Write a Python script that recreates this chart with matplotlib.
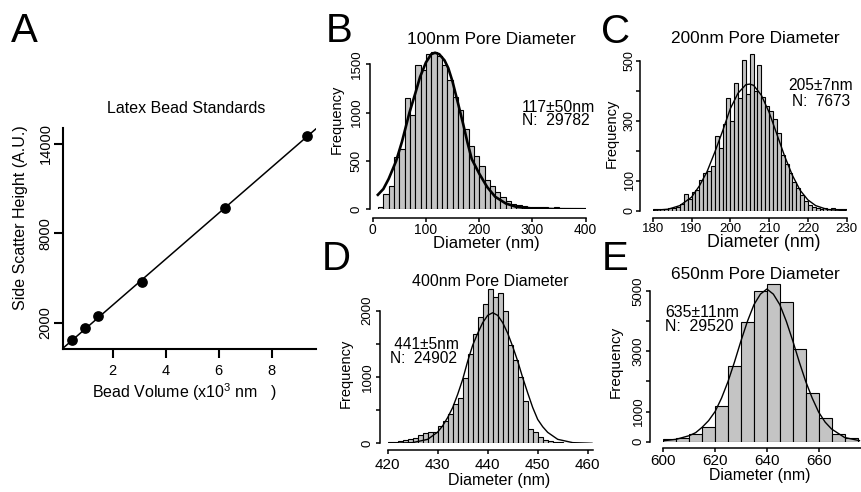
import numpy as np
import matplotlib
matplotlib.use('Agg')
import matplotlib.pyplot as plt

plt.rcParams['font.family'] = ['Liberation Sans', 'DejaVu Sans']
plt.rcParams['mathtext.fontset'] = 'custom'
plt.rcParams['mathtext.rm'] = 'Liberation Sans'

W, H = 862, 492
BAR = '#c4c4c4'

# A: latex bead standards
bead_volume = [0.48, 0.97, 1.46, 3.09, 6.23, 9.32]
side_scatter = [830, 1665, 2450, 4740, 9710, 14510]

# B: 100 nm pore, 10 nm bins
b_edges = list(range(10, 400, 10))
b_counts = [24, 159, 238, 540, 620, 1155, 980, 1490, 1440, 1605,
            1625, 1585, 1495, 1340, 1165, 1030, 830, 650, 552, 448,
            303, 240, 175, 125, 86, 58, 45, 36, 28, 24,
            22, 20, 17, 19, 15, 14, 12, 10, 10]
b_fit_x = [8, 20, 30, 44, 55, 69, 80, 89, 100, 110, 117, 125, 135, 142,
           150, 161, 170, 178, 186, 200, 215, 230, 250, 270, 300, 350, 400]
b_fit_y = [140, 210, 315, 500, 700, 1000, 1200, 1370, 1520, 1605, 1620,
           1605, 1540, 1460, 1320, 1080, 880, 690, 520, 370, 230, 130,
           60, 25, 8, 1, 0]

# C: 200 nm pore, 1 nm bins
c_edges = list(range(180, 230))
c_counts = [5, 6, 5, 6, 8, 10, 13, 22, 55, 40,
            62, 68, 102, 125, 133, 150, 249, 208, 290, 375,
            300, 425, 375, 502, 390, 522, 400, 487, 380, 350,
            333, 305, 258, 185, 155, 127, 97, 75, 52, 33,
            18, 12, 8, 6, 8, 6, 8, 7, 6, 7]
c_fit_x = [180, 184, 187, 190, 192, 194, 196, 198, 200, 202, 204, 205,
           206, 208, 210, 212, 214, 216, 218, 220, 222, 225, 230]
c_fit_y = [1, 5, 17, 45, 82, 130, 195, 265, 340, 392, 420, 422,
           418, 385, 328, 255, 182, 118, 68, 36, 17, 4, 0]

# D: 400 nm pore, 1 nm bins
d_edges = list(range(420, 460))
d_counts = [25, 25, 35, 50, 60, 75, 125, 150, 175, 175,
            255, 340, 440, 600, 690, 990, 1350, 1650, 1900, 2100,
            2330, 2200, 2270, 1990, 1480, 1250, 1000, 640, 215, 175,
            100, 55, 35, 20, 15, 10, 8, 5, 5, 3]
d_fit_x = [420, 425, 428, 430, 431, 432, 433, 434, 435, 436, 437, 438, 439,
           440, 441, 442, 443, 444, 445, 446, 447, 448, 449, 450, 451, 452,
           454, 457, 461]
d_fit_y = [0, 10, 60, 170, 265, 390, 540, 740, 965, 1240, 1480, 1660, 1820,
           1930, 1970, 1930, 1820, 1660, 1460, 1240, 990, 760, 540, 360, 250,
           165, 60, 10, 0]

# E: 650 nm pore, 5 nm bins
e_edges = list(range(600, 675, 5))
e_counts = [77, 133, 254, 498, 1184, 2511, 3982, 5011, 5221, 4646,
            3075, 1626, 774, 254, 133]
e_fit_x = [600, 605, 610, 612.5, 615, 617.5, 620, 622.5, 625, 627.5, 630,
           632.5, 635, 637.5, 640, 642.5, 645, 647.5, 650, 652.5, 655,
           657.5, 660, 662.5, 665, 670, 676]
e_fit_y = [30, 80, 200, 300, 480, 700, 1000, 1450, 2000, 2650, 3350,
           4000, 4550, 4900, 5070, 4900, 4550, 4000, 3350, 2650, 2000,
           1450, 980, 650, 420, 140, 30]


def px_rect(l, t, r, b):
    return [l / W, 1 - b / H, (r - l) / W, (b - t) / H]


fig = plt.figure(figsize=(W / 100, H / 100), dpi=100)


def put(x, y, s, size, **kw):
    kw.setdefault('color', 'black')
    return fig.text(x / W, 1 - y / H, s, fontsize=size, **kw)


def hist_panel(rect, edges, counts, width, fit_x, fit_y, fit_lw,
               xlim, ylim, xticks, yticks, yticklabels, left_out, bottom_out,
               xtick_size, ytick_size, xpad, ypad):
    ax = fig.add_axes(rect)
    ax.patch.set_visible(False)
    ax.bar(edges, counts, width=width, align='edge', color=BAR,
           edgecolor='black', linewidth=0.8)
    ax.plot(fit_x, fit_y, color='black', lw=fit_lw, solid_capstyle='butt')
    ax.set_xlim(*xlim)
    ax.set_ylim(*ylim)
    ax.spines['top'].set_visible(False)
    ax.spines['right'].set_visible(False)
    ax.spines['left'].set_position(('outward', left_out))
    ax.spines['bottom'].set_position(('outward', bottom_out))
    ax.spines['left'].set_bounds(yticks[0], yticks[-1])
    ax.spines['bottom'].set_bounds(xlim[0], xlim[1])
    for s in ['left', 'bottom']:
        ax.spines[s].set_linewidth(1.1)
    ax.set_xticks(xticks, [str(t) for t in xticks], fontsize=xtick_size)
    ax.set_yticks(yticks, yticklabels, fontsize=ytick_size, rotation=90,
                  va='center')
    ax.tick_params(direction='out', length=3.2, width=1.1)
    ax.tick_params(axis='x', pad=xpad)
    ax.tick_params(axis='y', pad=ypad)
    return ax


# ---- A ----
ax = fig.add_axes(px_rect(63, 128, 316, 349))
ax.patch.set_visible(False)
slope, intercept = np.polyfit(bead_volume, side_scatter, 1)
xx = np.array([0.125, 9.67])
ax.plot(xx, slope * xx + intercept, color='black', lw=1.1)
ax.plot(bead_volume, side_scatter, 'o', color='black', ms=6.7, zorder=3)
ax.set_xlim(0.125, 9.67)
ax.set_ylim(255, 15070)
ax.spines['top'].set_visible(False)
ax.spines['right'].set_visible(False)
for s in ['left', 'bottom']:
    ax.spines[s].set_linewidth(1.5)
ax.set_xticks([2, 4, 6, 8], ['2', '4', '6', '8'], fontsize=10.5)
ax.set_yticks([2000, 8000, 14000], ['2000', '8000', '14000'], fontsize=10.5,
              rotation=90, va='center')
ax.tick_params(direction='out', length=6.5, width=1.5)
ax.tick_params(axis='x', pad=4.5)
ax.tick_params(axis='y', pad=1)

put(186, 113, 'Latex Bead Standards', 11.5, ha='center', va='baseline')
put(184, 398, 'Bead Volume (x10$^3$ nm   )', 11.5, ha='center', va='baseline')
put(20.5, 218, 'Side Scatter Height (A.U.)', 11.5, ha='center', va='center',
    rotation=90)

# ---- B ----
hist_panel(px_rect(372.7, 45, 585.7, 209.3), b_edges, b_counts, 10,
           b_fit_x, b_fit_y, 1.9, (0, 400), (0, 1700),
           [0, 100, 200, 300, 400], [0, 500, 1000, 1500],
           ['0', '500', '1000', '1500'], 2, 6.5, 10, 9.5, 0.5, 2.0)
put(491, 44.3, '100nm Pore Diameter', 12.4, ha='center', va='baseline')
put(486.7, 248, 'Diameter (nm)', 12, ha='center', va='baseline')
put(336.5, 119, 'Frequency', 10.5, ha='center', va='center', rotation=90)
put(521.7, 125, '117\u00b150nm\nN:  29782', 11.3, ha='left', va='baseline',
    linespacing=0.83)

# ---- C ----
hist_panel(px_rect(652.7, 48.7, 846.7, 210.7), c_edges, c_counts, 1,
           c_fit_x, c_fit_y, 1.0, (180, 230), (0, 540),
           [180, 190, 200, 210, 220, 230], [0, 100, 200, 300, 400, 500],
           ['0', '100', '', '300', '', '500'], 9.1, 5.5, 9.5, 9.0, 0, 0)
put(755, 43, '200nm Pore Diameter', 12.4, ha='center', va='baseline')
put(764, 247, 'Diameter (nm)', 12.8, ha='center', va='baseline')
put(612, 133.5, 'Frequency', 10.5, ha='center', va='center', rotation=90)
put(821, 106, '205\u00b17nm\nN:  7673', 11.2, ha='center', va='baseline',
    linespacing=1.1)

# ---- D ----
hist_panel(px_rect(387.7, 280.9, 592.7, 443.3), d_edges, d_counts, 1,
           d_fit_x, d_fit_y, 1.0, (420, 461), (0, 2450),
           [420, 430, 440, 450, 460], [0, 500, 1000, 1500, 2000],
           ['0', '', '1000', '', '2000'], 5.5, 4.8, 11, 9.5, 2.5, 1.5)
put(490, 285.7, '400nm Pore Diameter', 11.5, ha='center', va='baseline')
put(499, 485, 'Diameter (nm)', 11.5, ha='center', va='baseline')
put(346, 373, 'Frequency', 10.5, ha='center', va='center', rotation=90)
put(424, 362.7, ' 441\u00b15nm\nN:  24902', 11.2, ha='center', va='baseline',
    linespacing=0.88)

# ---- E ----
hist_panel(px_rect(663.3, 279.1, 861.4, 441.7), e_edges, e_counts, 5,
           e_fit_x, e_fit_y, 1.0, (600, 676.5), (0, 5400),
           [600, 620, 640, 660], [0, 1000, 2000, 3000, 4000, 5000],
           ['0', '1000', '', '3000', '', '5000'], 9.6, 4.8, 11, 9.5, 0.5, 0.5)
put(755, 278.7, '650nm Pore Diameter', 12.4, ha='center', va='baseline')
put(760, 480, 'Diameter (nm)', 11.4, ha='center', va='baseline')
put(616, 362, 'Frequency', 11, ha='center', va='center', rotation=90)
put(665, 330.7, '635\u00b111nm\nN:  29520', 11.4, ha='left', va='baseline',
    linespacing=0.9)

# panel letters
for letter, x, y in [('A', 11, 41.7), ('B', 326, 42), ('C', 601, 43),
                     ('D', 322, 270), ('E', 602, 270)]:
    put(x, y, letter, 29, ha='left', va='baseline')

fig.savefig('out.png', dpi=100)
